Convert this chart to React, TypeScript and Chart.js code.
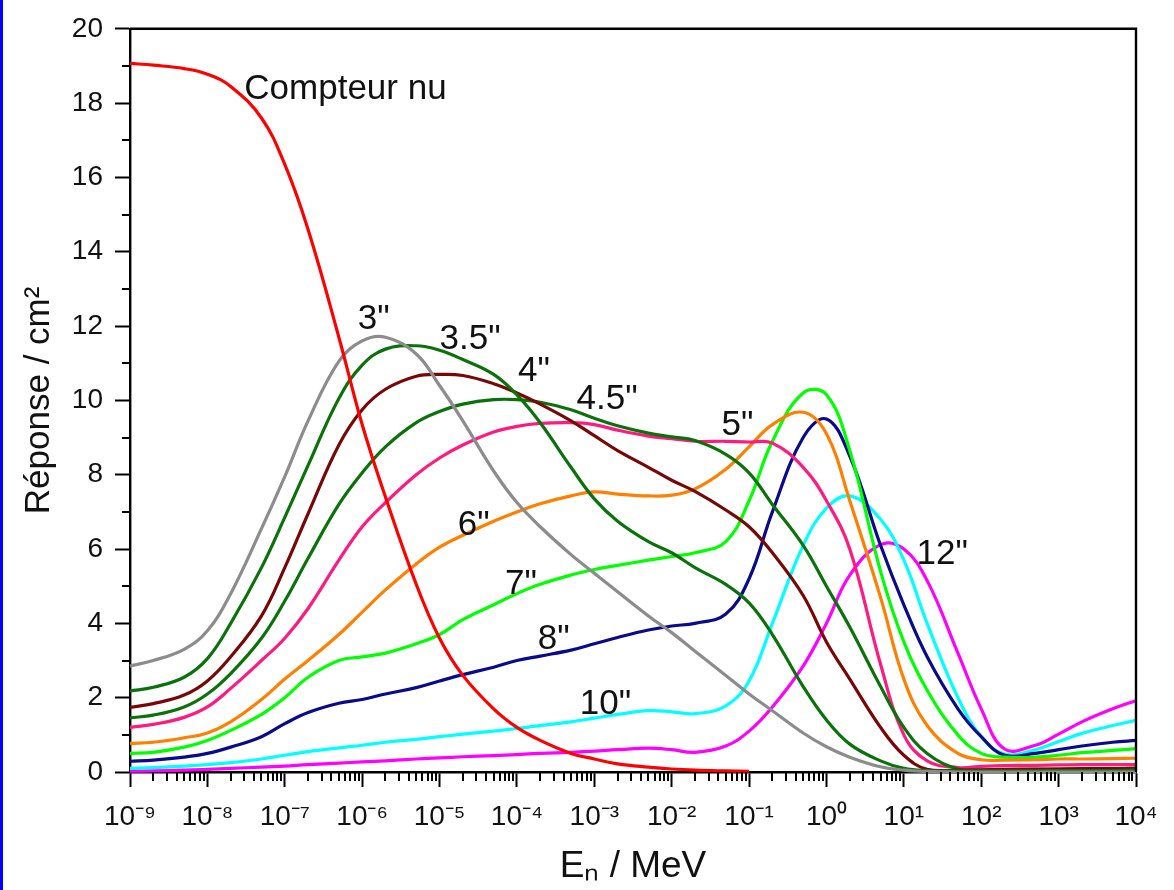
import React, { useEffect, useRef } from 'react';
import { Chart, registerables } from 'chart.js';

Chart.register(...registerables);

// Neutron energies (MeV) at which the response curves are read
const energies = [
  1e-9, 2e-9, 5e-9, 1e-8, 2e-8, 5e-8, 1e-7, 2e-7, 5e-7, 1e-6,
  2e-6, 5e-6, 1e-5, 2e-5, 5e-5, 1e-4, 2e-4, 5e-4, 1e-3, 2e-3,
  5e-3, 1e-2, 2e-2, 5e-2, 1e-1, 2e-1, 5e-1, 1, 2, 5,
  10, 20, 50, 100, 200, 500, 1000, 2000, 5000, 10000,
];

// Response (cm²) per sphere
const bareCounter = [19.07, 19.02, 18.93, 18.78, 18.45, 17.6, 16.35, 14.6, 11.7, 9.35, 7.4, 5.05, 3.6, 2.6, 1.7, 1.2, 0.85, 0.5, 0.35, 0.22, 0.13, 0.08, 0.05, 0.03, 0.02];
const sphere3 = [2.85, 3.0, 3.3, 3.8, 4.8, 6.55, 7.95, 9.45, 11.05, 11.6, 11.7, 11.25, 10.4, 9.45, 8.1, 7.25, 6.6, 5.85, 5.35, 4.85, 4.2, 3.75, 3.25, 2.6, 2.1, 1.65, 1.05, 0.68, 0.4, 0.14, 0.05, 0.015, 0, 0, 0, 0, 0, 0, 0, 0];
const sphere35 = [2.18, 2.28, 2.55, 3.05, 4.0, 5.5, 6.85, 8.25, 10.05, 10.95, 11.38, 11.47, 11.35, 11.1, 10.7, 10.15, 9.4, 8.2, 7.35, 6.75, 6.2, 5.9, 5.5, 5.05, 4.55, 3.7, 2.3, 1.4, 0.75, 0.3, 0.1, 0.04, 0.03, 0.03, 0.03, 0.03, 0.04, 0.04, 0.04, 0.05];
const sphere4 = [1.74, 1.84, 2.07, 2.45, 3.1, 4.2, 5.5, 6.95, 8.8, 9.75, 10.3, 10.65, 10.7, 10.67, 10.45, 10.2, 9.9, 9.45, 9.05, 8.65, 8.2, 7.85, 7.55, 7.05, 6.6, 5.9, 4.75, 3.5, 2.5, 1.2, 0.45, 0.07, 0.05, 0.06, 0.07, 0.08, 0.08, 0.09, 0.09, 0.1];
const sphere45 = [1.46, 1.53, 1.75, 2.1, 2.65, 3.6, 4.6, 5.75, 7.2, 8.05, 8.75, 9.4, 9.7, 9.9, 10.02, 10.02, 9.95, 9.75, 9.52, 9.32, 9.12, 9.02, 8.92, 8.55, 8.05, 7.2, 6.1, 5.0, 3.9, 2.3, 1.2, 0.5, 0.08, 0.05, 0.06, 0.07, 0.08, 0.08, 0.09, 0.1];
const sphere5 = [1.2, 1.28, 1.47, 1.75, 2.25, 3.0, 3.6, 4.4, 5.7, 6.6, 7.25, 8.0, 8.45, 8.8, 9.15, 9.3, 9.38, 9.4, 9.35, 9.2, 9.04, 8.97, 8.9, 8.9, 8.88, 8.85, 8.2, 7.3, 6.0, 2.9, 1.0, 0.3, 0.12, 0.15, 0.17, 0.18, 0.19, 0.2, 0.2, 0.2];
const sphere6 = [0.77, 0.8, 0.92, 1.05, 1.35, 1.95, 2.5, 3.0, 3.7, 4.3, 4.9, 5.6, 6.05, 6.37, 6.75, 7.0, 7.22, 7.43, 7.54, 7.48, 7.43, 7.45, 7.62, 8.15, 8.75, 9.35, 9.68, 9.1, 7.3, 4.7, 2.5, 1.25, 0.5, 0.33, 0.32, 0.33, 0.35, 0.35, 0.36, 0.37];
const sphere7 = [0.5, 0.53, 0.67, 0.85, 1.12, 1.55, 2.0, 2.55, 3.0, 3.1, 3.2, 3.45, 3.7, 4.1, 4.5, 4.8, 5.05, 5.3, 5.45, 5.56, 5.7, 5.8, 5.9, 6.2, 7.3, 8.9, 10.2, 10.15, 8.65, 5.4, 3.5, 2.2, 1.0, 0.5, 0.4, 0.4, 0.45, 0.52, 0.58, 0.63];
const sphere8 = [0.29, 0.32, 0.4, 0.5, 0.67, 0.95, 1.3, 1.6, 1.85, 1.95, 2.1, 2.27, 2.45, 2.62, 2.82, 3.0, 3.12, 3.28, 3.45, 3.62, 3.82, 3.93, 4.0, 4.25, 5.2, 7.0, 9.0, 9.5, 8.5, 6.1, 4.5, 3.1, 1.7, 0.95, 0.45, 0.5, 0.6, 0.7, 0.8, 0.85];
const sphere10 = [0.1, 0.12, 0.16, 0.2, 0.25, 0.35, 0.45, 0.55, 0.65, 0.72, 0.8, 0.88, 0.95, 1.02, 1.1, 1.17, 1.25, 1.35, 1.45, 1.55, 1.65, 1.62, 1.57, 1.78, 2.45, 4.0, 6.1, 7.1, 7.43, 6.8, 5.7, 4.0, 2.0, 0.95, 0.48, 0.6, 0.82, 1.04, 1.25, 1.39];
const sphere12 = [0.02, 0.03, 0.05, 0.07, 0.1, 0.13, 0.16, 0.2, 0.24, 0.27, 0.3, 0.35, 0.38, 0.41, 0.44, 0.47, 0.5, 0.53, 0.56, 0.6, 0.64, 0.6, 0.53, 0.7, 1.1, 1.75, 2.85, 4.0, 5.3, 6.12, 6.0, 5.15, 3.2, 1.7, 0.62, 0.72, 1.02, 1.35, 1.7, 1.92];

const seriesNames = ['Compteur nu', '3"', '3.5"', '4"', '4.5"', '5"', '6"', '7"', '8"', '10"', '12"'];
const seriesValues = [bareCounter, sphere3, sphere35, sphere4, sphere45, sphere5, sphere6, sphere7, sphere8, sphere10, sphere12];
const seriesColors = ['#ff0000', '#8c8c8c', '#0b720b', '#780808', '#0b720b', '#ff1a80', '#ff8000', '#00ff00', '#0a0a8c', '#00ffff', '#ff00ff'];

// Axis ticks
const xTickValues = [1e-9, 1e-8, 1e-7, 1e-6, 1e-5, 1e-4, 1e-3, 1e-2, 1e-1, 1, 10, 100, 1000, 10000];
const xTickLabels = ['10⁻⁹', '10⁻⁸', '10⁻⁷', '10⁻⁶', '10⁻⁵', '10⁻⁴', '10⁻³', '10⁻²', '10⁻¹', '10⁰', '10¹', '10²', '10³', '10⁴'];
const xMinorMultipliers = [2, 3, 4, 5, 6, 7, 8, 9];
const yTickValues = [0, 2, 4, 6, 8, 10, 12, 14, 16, 18, 20];
const yMinorValues = [1, 3, 5, 7, 9, 11, 13, 15, 17, 19];

// Curve annotations (energy, response) of the text's left baseline
const noteTexts = ['Compteur nu', '3"', '3.5"', '4"', '4.5"', '5"', '6"', '7"', '8"', '10"', '12"'];
const noteEnergies = [3e-8, 8.8e-7, 1.0e-5, 1.03e-4, 5.9e-4, 4.4e-2, 1.72e-5, 7.0e-5, 1.86e-4, 6.5e-4, 14.6];
const noteValues = [18.1, 11.92, 11.39, 10.51, 9.76, 9.07, 6.37, 4.8, 3.31, 1.57, 5.6];

const FONT = '"Liberation Sans", Arial, sans-serif';

const decorPlugin = {
  id: 'decor',
  afterDatasetsDraw(chart: any) {
    const { ctx, chartArea, scales } = chart;
    const xs = scales.x;
    const ys = scales.y;
    ctx.save();
    // frame (top and right)
    ctx.strokeStyle = '#000';
    ctx.lineWidth = 2.4;
    ctx.beginPath();
    ctx.moveTo(chartArea.left, chartArea.top);
    ctx.lineTo(chartArea.right, chartArea.top);
    ctx.lineTo(chartArea.right, chartArea.bottom);
    ctx.stroke();
    // minor ticks on x
    ctx.lineWidth = 2;
    ctx.beginPath();
    for (let i = 0; i < xTickValues.length - 1; i++) {
      for (const m of xMinorMultipliers) {
        const px = Math.round(xs.getPixelForValue(xTickValues[i] * m));
        ctx.moveTo(px, chartArea.bottom);
        ctx.lineTo(px, chartArea.bottom + 9);
      }
    }
    // minor ticks on y
    for (const v of yMinorValues) {
      const py = Math.round(ys.getPixelForValue(v));
      ctx.moveTo(chartArea.left, py);
      ctx.lineTo(chartArea.left - 8, py);
    }
    ctx.stroke();
    // curve labels
    ctx.fillStyle = '#111';
    ctx.font = `35px ${FONT}`;
    ctx.textAlign = 'left';
    ctx.textBaseline = 'alphabetic';
    noteTexts.forEach((t, i) => {
      ctx.fillText(t, xs.getPixelForValue(noteEnergies[i]), ys.getPixelForValue(noteValues[i]));
    });
    ctx.restore();
  },
};

export default function App() {
  const ref = useRef<HTMLCanvasElement>(null);
  useEffect(() => {
    document.body.style.margin = '0';
    const datasets = seriesNames.map((name, i) => ({
      label: name,
      data: seriesValues[i].map((v, k) => ({ x: energies[k], y: v })),
      borderColor: seriesColors[i],
      backgroundColor: seriesColors[i],
      borderWidth: 3.2,
      pointRadius: 0,
      tension: 0.4,
      fill: false,
      clip: 4,
    }));
    const chart = new Chart(ref.current!, {
      type: 'line',
      data: { datasets },
      plugins: [decorPlugin],
      options: {
        animation: false,
        responsive: false,
        devicePixelRatio: 1,
        layout: { padding: { left: 4, right: 38, top: 22, bottom: 0 } },
        plugins: { legend: { display: false }, tooltip: { enabled: false } },
        scales: {
          x: {
            type: 'logarithmic',
            min: 1e-9,
            max: 1e4,
            afterBuildTicks: (scale: any) => {
              scale.ticks = xTickValues.map((v) => ({ value: v }));
            },
            afterFit: (scale: any) => {
              scale.height = 890 - 772;
            },
            ticks: {
              autoSkip: false,
              maxRotation: 0,
              minRotation: 0,
              padding: 13,
              color: '#111',
              font: { size: 28, family: FONT },
              callback: (_v: any, i: number) => xTickLabels[i],
            },
            grid: { drawOnChartArea: false, drawTicks: true, tickLength: 15, tickWidth: 2, tickColor: '#000' },
            border: { display: true, color: '#000', width: 2.4 },
            title: {
              display: true,
              text: 'Eₙ / MeV',
              color: '#111',
              font: { size: 37, family: FONT },
              padding: { top: 0, bottom: 1 },
            },
          },
          y: {
            type: 'linear',
            min: 0,
            max: 20,
            afterBuildTicks: (scale: any) => {
              scale.ticks = yTickValues.map((v) => ({ value: v }));
            },
            afterFit: (scale: any) => {
              scale.width = 130 - 4;
            },
            ticks: {
              padding: 12,
              color: '#111',
              font: { size: 28, family: FONT },
            },
            grid: { drawOnChartArea: false, drawTicks: true, tickLength: 15, tickWidth: 2, tickColor: '#000' },
            border: { display: true, color: '#000', width: 2.4 },
            title: {
              display: true,
              text: 'Réponse / cm²',
              color: '#111',
              font: { size: 35, family: FONT },
              padding: { top: 14, bottom: 0 },
            },
          },
        },
      } as any,
    });
    return () => chart.destroy();
  }, []);
  return (
    <div style={{ position: 'relative', width: 1174, height: 890, background: '#fff', overflow: 'hidden' }}>
      <canvas ref={ref} width={1174} height={890} style={{ display: 'block' }} />
      <div style={{ position: 'absolute', left: 0, top: 0, width: 3, height: 890, background: '#0000ff' }} />
    </div>
  );
}
